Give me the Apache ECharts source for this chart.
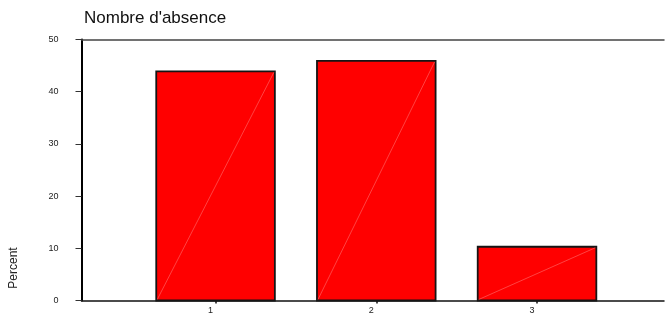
<!DOCTYPE html>
<html>
<head>
<meta charset="utf-8">
<script src="https://cdn.jsdelivr.net/npm/echarts@6/dist/echarts.min.js"></script>
<style>
html,body{margin:0;padding:0;background:#fff;}
#c{width:665px;height:322px;}
</style>
</head>
<body>
<div id="c"></div>
<script>
var categories = ['1', '2', '3'];
var percentValues = [43.9, 45.9, 10.3];
var yTicks = [0, 10, 20, 30, 40, 50];
var titleText = "Nombre d'absence";
var yAxisTitle = 'Percent';

var FONT = 'Liberation Sans, Arial, Helvetica, sans-serif';
var chart = echarts.init(document.getElementById('c'), null, {renderer: 'canvas'});

var positions = categories.map(function (c, i) { return i + 1; });
var barData = categories.map(function (c, i) { return [positions[i], percentValues[i]]; });

var option = {
  animation: false,
  backgroundColor: '#ffffff',
  title: {
    text: titleText,
    left: 79,
    top: 5,
    textStyle: {fontFamily: FONT, fontSize: 17, fontWeight: 'normal', color: '#111'}
  },
  grid: {left: 81.5, right: 1, top: 39.5, bottom: 21.5, containLabel: false},
  xAxis: [{
    type: 'value',
    min: 0.166,
    max: 3.79,
    splitLine: {show: false},
    axisLine: {show: true, onZero: false, lineStyle: {color: '#111', width: 1.5}},
    axisTick: {show: true, customValues: positions, length: 3, lineStyle: {color: '#111', width: 1.5}},
    axisLabel: {
      show: true,
      customValues: positions,
      formatter: function (v) { var i = positions.indexOf(v); return i >= 0 ? categories[i] : ''; },
      fontFamily: FONT, fontSize: 9, color: '#222', margin: 6, padding: [0, 10, 0, 0]
    }
  }, {
    type: 'value',
    position: 'top',
    min: 0.166,
    max: 3.79,
    splitLine: {show: false},
    axisLine: {show: true, onZero: false, lineStyle: {color: '#444', width: 1.5}},
    axisTick: {show: false},
    axisLabel: {show: false}
  }],
  yAxis: {
    type: 'value',
    min: 0,
    max: 50,
    interval: 10,
    splitLine: {show: false},
    axisLine: {show: true, onZero: false, lineStyle: {color: '#000', width: 2}},
    axisTick: {show: true, length: 6, inside: false, lineStyle: {color: '#333', width: 1}},
    axisLabel: {
      fontFamily: FONT, fontSize: 9, color: '#222', margin: 23,
      formatter: function (v) { return yTicks.indexOf(v) >= 0 ? String(v) : ''; }
    }
  },
  graphic: [{
    type: 'text',
    x: 14,
    y: 268,
    rotation: Math.PI / 2,
    style: {text: yAxisTitle, fontFamily: FONT, fontSize: 12, fill: '#222', align: 'center', verticalAlign: 'middle'}
  }],
  series: [{
    type: 'custom',
    xAxisIndex: 0,
    data: barData,
    renderItem: function (params, api) {
      var x = api.value(0), y = api.value(1);
      var top = api.coord([x, y]);
      var base = api.coord([x, 0]);
      var w = api.size([0.738, 0])[0];
      var x0 = top[0] - w / 2, x1 = top[0] + w / 2;
      return {
        type: 'group',
        children: [{
          type: 'rect',
          shape: {x: x0, y: top[1], width: w, height: base[1] - top[1]},
          style: {fill: '#ff0000', stroke: '#151515', lineWidth: 1.8}
        }, {
          type: 'line',
          shape: {x1: x0 + 1, y1: base[1] - 1, x2: x1 - 1, y2: top[1] + 1},
          style: {stroke: 'rgba(255,140,140,0.8)', lineWidth: 0.6}
        }]
      };
    }
  }]
};
chart.setOption(option);
</script>
</body>
</html>
